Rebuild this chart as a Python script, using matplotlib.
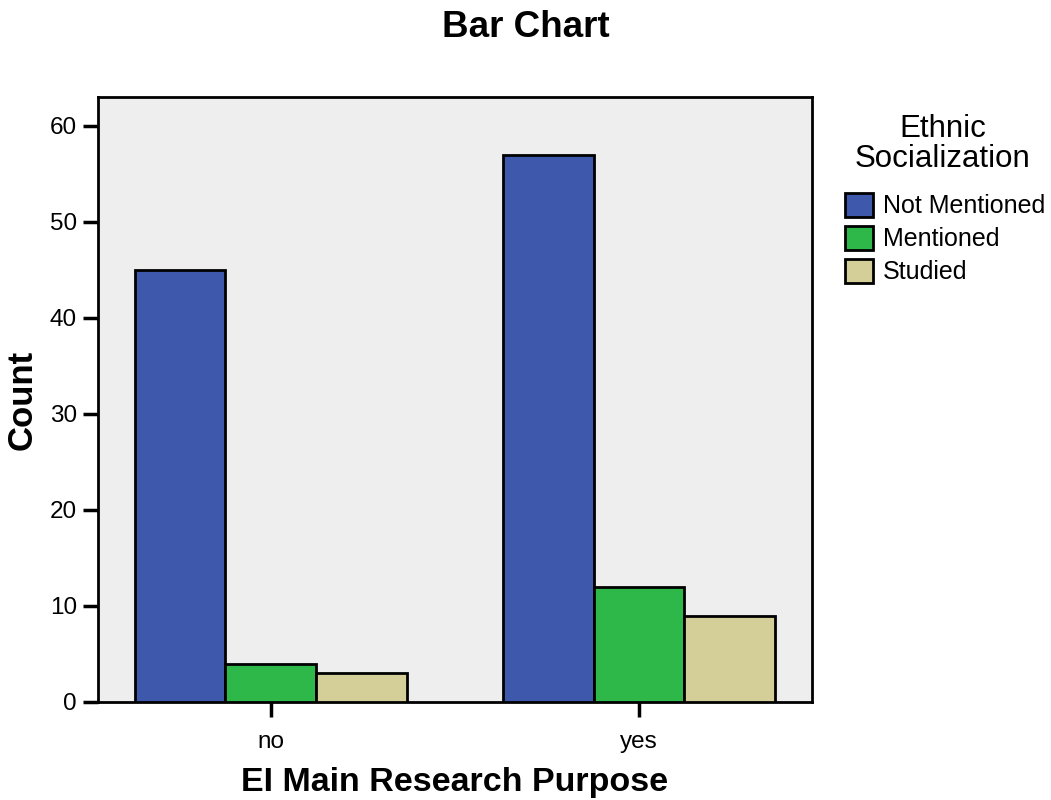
import matplotlib.pyplot as plt
import numpy as np

plt.rcParams['font.family'] = ['Liberation Sans', 'DejaVu Sans']

categories = ["no", "yes"]
series = ["Not Mentioned", "Mentioned", "Studied"]
not_mentioned = [45, 57]
mentioned = [4, 12]
studied = [3, 9]
colors = ["#3E58AC", "#2EB84A", "#D4CF98"]

fig = plt.figure(figsize=(10.51, 8), dpi=100)
ax = fig.add_axes([0.0932, 0.1225, 0.6794, 0.7563])
ax.set_facecolor("#EEEEEE")

x = np.arange(len(categories))
w = 0.247
for i, (vals, name) in enumerate(zip([not_mentioned, mentioned, studied], series)):
    ax.bar(x + (i - 1) * w, vals, w, color=colors[i], edgecolor="black",
           linewidth=2, label=name, zorder=3)

ax.set_xlim(-0.47, 1.47)
ax.set_ylim(0, 63)
ax.set_yticks(np.arange(0, 61, 10))
ax.set_xticks(x)
ax.set_xticklabels(categories)
ax.tick_params(axis="both", length=11, width=2.5, labelsize=17.5, pad=4)
ax.tick_params(axis="x", pad=10)
for s in ax.spines.values():
    s.set_linewidth(2)

ax.set_xlabel("EI Main Research Purpose", fontsize=24.5, fontweight="bold", labelpad=10)
ax.set_ylabel("Count", fontsize=25, fontweight="bold", labelpad=8)
fig.suptitle("Bar Chart", fontsize=26.5, fontweight="bold", y=0.987)

# legend title drawn as its own text so the gap above the entries matches
fig.text(0.897, 0.857, "Ethnic\nSocialization", ha="center", va="top",
         multialignment="center", fontsize=22.5, linespacing=1.0)
leg = ax.legend(loc="upper left",
                bbox_to_anchor=(0.804, 0.759), bbox_transform=fig.transFigure,
                frameon=False, fontsize=18, borderpad=0,
                handlelength=1.1, handleheight=1.1, handletextpad=0.4,
                labelspacing=0.3, borderaxespad=0)

plt.savefig("out.png", dpi=100)
